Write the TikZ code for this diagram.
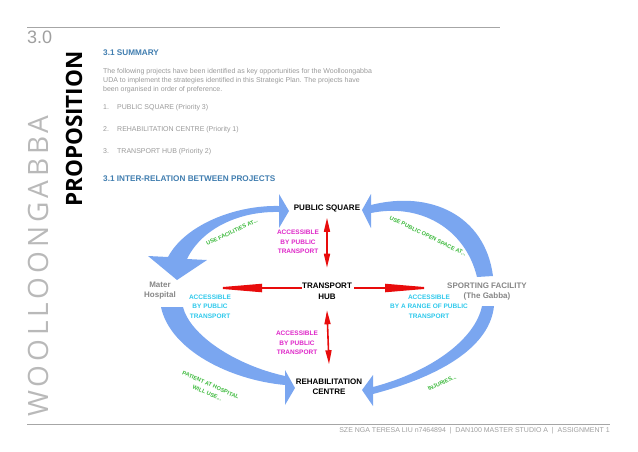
\documentclass[tikz,border=0pt]{standalone}
\usepackage{fontspec}
\setmainfont{Liberation Sans}
\newfontfamily\opensans{Open Sans}
\usetikzlibrary{arrows.meta, positioning}
\definecolor{bandblue}{RGB}{122,166,240}
\definecolor{headblue}{RGB}{64,125,175}
\definecolor{hotred}{RGB}{232,12,12}
\definecolor{pinkish}{RGB}{222,40,200}
\definecolor{cyanish}{RGB}{45,200,235}
\definecolor{greenish}{RGB}{60,185,60}

\begin{document}
\begin{tikzpicture}[
        x=1pt, y=-1pt,
        heading/.style = {anchor=base west, inner sep=0pt, text=headblue, font=\bfseries\fontsize{8.2}{10}\selectfont},
        body/.style = {anchor=base west, inner sep=0pt, align=left, text=gray!80, font=\fontsize{7}{9}\selectfont},
        project/.style = {inner sep=0pt, align=center, font=\bfseries\fontsize{8}{10.5}\selectfont},
        place/.style = {project, text=gray!95},
        pinknote/.style = {inner sep=0pt, align=center, text=pinkish, font=\bfseries\fontsize{6.5}{9.3}\selectfont},
        cyannote/.style = {pinknote, text=cyanish},
        greennote/.style = {inner sep=0pt, align=center, text=greenish, font=\bfseries\fontsize{5.6}{8.5}\selectfont},
        redline/.style = {hotred, line width=2pt, -{Triangle[length=52pt, width=8pt]}},
        reddouble/.style = {hotred, line width=1.6pt, {Triangle[length=14pt, width=6pt]}-{Triangle[length=14pt, width=6pt]}},
        band/.style = {fill=bandblue, draw=none}
    ]
    \useasboundingbox (0,0) rectangle (638,451);

    % page frame
    \draw[gray!70, line width=0.8pt] (27,27) -- (500,27);
    \draw[gray!70, line width=0.8pt] (27,424) -- (610,424);
    \node[anchor=base west, inner sep=0pt, text=gray!75, font=\fontsize{18}{18}\selectfont] (chapter) at (27,43) {3.0};
    \node[rotate=90, anchor=base west, inner sep=0pt, text=gray!55, font=\opensans\fontsize{28}{28}\selectfont\addfontfeature{LetterSpace=14}] (suburb) at (48,417) {WOOLLOONGABBA};
    \node[rotate=90, anchor=base west, inner sep=0pt, font=\opensans\bfseries\fontsize{22.5}{23}\selectfont] (proposition) at (82,207) {PROPOSITION};
    \node[anchor=base east, inner sep=0pt, text=gray!75, font=\fontsize{7}{8}\selectfont] (footer) at (610,432) {SZE NGA TERESA LIU n7464894~~|~~DAN100 MASTER STUDIO A~~|~~ASSIGNMENT 1};

    % summary
    \node[heading] (summary) at (103,55) {3.1 SUMMARY};
    \node[body] (intro) at (103,91) {The following projects have been identified as key opportunities for the Woolloongabba\\UDA to implement the strategies identified in this Strategic Plan. The projects have\\been organised in order of preference.};
    \node[body] (first) at (103,109.5) {\makebox[14pt][l]{1.}PUBLIC SQUARE (Priority 3)};
    \node[body] (second) at (103,131.5) {\makebox[14pt][l]{2.}REHABILITATION CENTRE (Priority 1)};
    \node[body] (third) at (103,153.5) {\makebox[14pt][l]{3.}TRANSPORT HUB (Priority 2)};
    \node[heading] (relation) at (103,181) {3.1 INTER-RELATION BETWEEN PROJECTS};

    % projects
    \node[project] (square) at (327,208) {PUBLIC SQUARE};
    \node[project] (hub) at (327,291) {TRANSPORT\\HUB};
    \node[project] (rehab) at (329,386.5) {REHABILITATION\\CENTRE};
    \node[place] (mater) at (160,290.5) {Mater\\Hospital};
    \node[place] (sport) at (487,291.5) {SPORTING FACILITY\\(The Gabba)};

    \node[pinknote] (uppernote) at (298,242) {ACCESSIBLE\\BY PUBLIC\\TRANSPORT};
    \node[pinknote] (lowernote) at (297,343) {ACCESSIBLE\\BY PUBLIC\\TRANSPORT};
    \node[cyannote] (maternote) at (210,306.5) {ACCESSIBLE\\BY PUBLIC\\TRANSPORT};
    \node[cyannote] (sportnote) at (429,306.5) {ACCESSIBLE\\BY A RANGE OF PUBLIC\\TRANSPORT};

    % red links
    \coordinate (lefttip) at (210,288);
    \coordinate (righttip) at (437,288);
    \draw[redline] (hub.west |- lefttip) -- (lefttip);
    \draw[redline] ([xshift=2pt]hub.east |- righttip) -- (righttip);
    \draw[reddouble] ([yshift=-6pt]square.south) -- ([yshift=15pt]hub.north);
    \draw[reddouble] ([yshift=-11pt]hub.south) -- ([yshift=14pt]rehab.north);

    % blue bands
    \fill[band] (279,206) -- (279,194) -- (289,211) -- (279,228) -- (279,212)
        .. controls (240,211) and (202,228) .. (187,259) -- (207,260) -- (177,280) -- (148,256) -- (168,257)
        .. controls (185,225) and (235,205) .. (279,206) -- cycle;
    \fill[band] (371,205) -- (371,194) -- (362,210) -- (371,228) -- (371,213)
        .. controls (420,203) and (465,228) .. (477,277) -- (493,276)
        .. controls (485,215) and (430,190) .. (371,205) -- cycle;
    \fill[band] (482,306) -- (494,306) .. controls (490,345) and (445,375) .. (373,394)
        -- (373,406) -- (362,390) -- (373,375) -- (373,387)
        .. controls (430,372) and (475,340) .. (482,306) -- cycle;
    \fill[band] (161,307) -- (183,307) .. controls (190,335) and (235,365) .. (285,376)
        -- (285,370) -- (295,388) -- (285,405) -- (285,385)
        .. controls (230,380) and (170,350) .. (161,307) -- cycle;

    \node[greennote, rotate=25] (usefacilities) at (232,232) {USE FACILITIES AT...};
    \node[greennote, rotate=-26] (useopen) at (428,236) {USE PUBLIC OPEN SPACE AT...};
    \node[greennote, rotate=-24] (patient) at (209,389) {PATIENT AT HOSPITAL\\WILL USE...};
    \node[greennote, rotate=24] (injuries) at (442,383) {INJURIES...};
\end{tikzpicture}
\end{document}
